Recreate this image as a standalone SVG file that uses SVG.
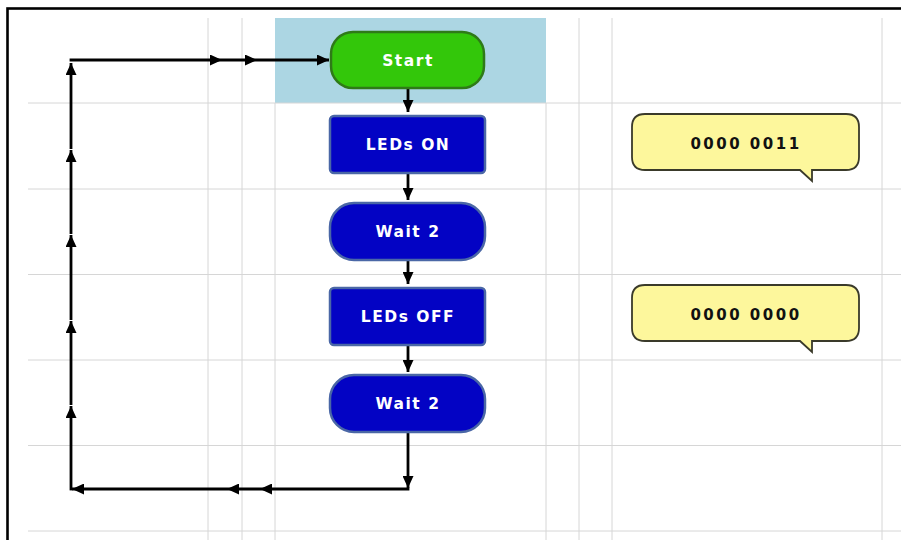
<svg xmlns="http://www.w3.org/2000/svg" width="901" height="540" viewBox="0 0 901 540">
<style>
.grid{stroke:#d6d6d6;stroke-width:1;fill:none}
.conn{stroke:#000;stroke-width:2.8;fill:none;marker-end:url(#ah)}
.green{fill:#33c70a;stroke:#2f7a18;stroke-width:2.5}
.blue{fill:#0303c4;stroke:#4a67a6;stroke-width:2.5}
.call{fill:#fdf79c;stroke:#3a3a2a;stroke-width:1.8}
.nt{font-family:"DejaVu Sans",Verdana,sans-serif;font-weight:bold;font-size:15.5px;fill:#fff;text-anchor:middle;letter-spacing:1.5px}
.ct{font-family:"DejaVu Sans",Verdana,sans-serif;font-weight:bold;font-size:15px;fill:#111;text-anchor:middle;letter-spacing:2.5px}
</style>
<defs>
<marker id="ah" markerUnits="userSpaceOnUse" markerWidth="13" markerHeight="11" refX="12" refY="5.5" orient="auto">
<path d="M0,0 L12,5.5 L0,11 z" fill="#000"/>
</marker>
</defs>
<rect x="0" y="0" width="901" height="540" fill="#fff"/>
<rect x="275" y="18" width="271" height="85" fill="#acd6e3"/>
<g id="grid">
<path class="grid" d="M28,103H901M28,189H901M28,274.5H901M28,360H901M28,445.5H901M28,531H901"/>
<path class="grid" d="M208,18V540M242,18V540M275,103V540M546,103V540M579,18V540M612,18V540M882,18V540"/>
</g>
<rect x="7.5" y="8.5" width="910" height="560" fill="none" stroke="#000" stroke-width="2.6"/>
<g id="connectors">
<line class="conn" x1="408" y1="88" x2="408" y2="112"/>
<line class="conn" x1="408" y1="174" x2="408" y2="200"/>
<line class="conn" x1="408" y1="261" x2="408" y2="284"/>
<line class="conn" x1="408" y1="346" x2="408" y2="372"/>
<line class="conn" x1="408" y1="433" x2="408" y2="488"/>
<line class="conn" x1="409.4" y1="489" x2="260" y2="489"/>
<line class="conn" x1="260" y1="489" x2="227" y2="489"/>
<line class="conn" x1="227" y1="489" x2="72" y2="489"/>
<line class="conn" x1="71" y1="490.4" x2="71" y2="406"/>
<line class="conn" x1="71" y1="405" x2="71" y2="321"/>
<line class="conn" x1="71" y1="320" x2="71" y2="235"/>
<line class="conn" x1="71" y1="234" x2="71" y2="150"/>
<line class="conn" x1="71" y1="149" x2="71" y2="63"/>
<line class="conn" x1="69.6" y1="60" x2="222" y2="60"/>
<line class="conn" x1="222" y1="60" x2="257" y2="60"/>
<line class="conn" x1="257" y1="60" x2="329" y2="60"/>
</g>
<g id="start">
<rect class="green" x="331" y="32" width="153" height="56" rx="22"/>
<text class="nt" x="408" y="66">Start</text>
</g>
<g id="leds-on">
<rect class="blue" x="330" y="116" width="155" height="57" rx="4"/>
<text class="nt" x="408" y="150">LEDs ON</text>
</g>
<g id="wait1">
<rect class="blue" x="330" y="203" width="155" height="57" rx="24"/>
<text class="nt" x="408" y="237">Wait 2</text>
</g>
<g id="leds-off">
<rect class="blue" x="330" y="288" width="155" height="57" rx="4"/>
<text class="nt" x="408" y="322">LEDs OFF</text>
</g>
<g id="wait2">
<rect class="blue" x="330" y="375" width="155" height="57" rx="24"/>
<text class="nt" x="408" y="409">Wait 2</text>
</g>
<g id="callout1">
<path class="call" d="M645,114H846Q859,114 859,127V157Q859,170 846,170H812V181L800,170H645Q632,170 632,157V127Q632,114 645,114Z"/>
<text class="ct" x="746" y="149">0000 0011</text>
</g>
<g id="callout2">
<path class="call" d="M645,285H846Q859,285 859,298V328Q859,341 846,341H812V352L800,341H645Q632,341 632,328V298Q632,285 645,285Z"/>
<text class="ct" x="746" y="320">0000 0000</text>
</g>
</svg>
